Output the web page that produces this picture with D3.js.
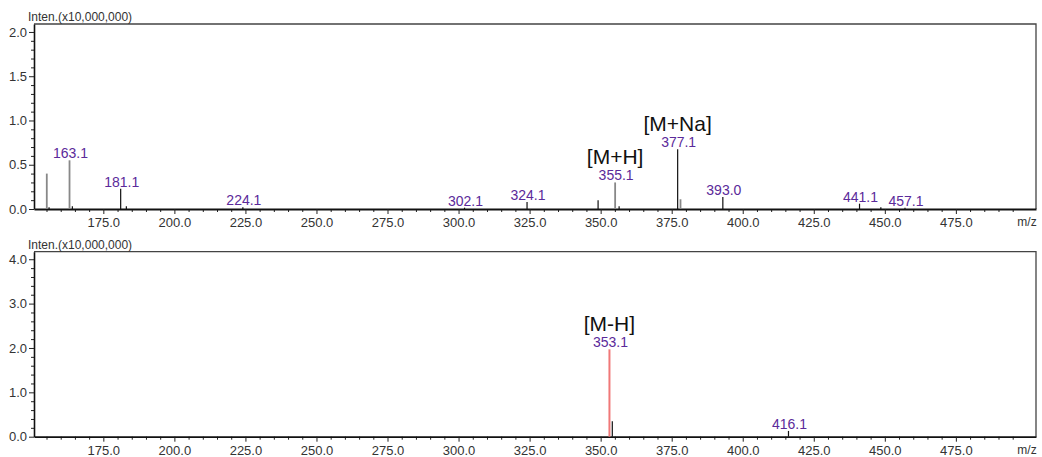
<!DOCTYPE html>
<html>
<head>
<meta charset="utf-8">
<script src="https://cdn.jsdelivr.net/npm/d3@7"></script>
<style>
  html, body { margin: 0; padding: 0; background: #fff; }
  svg { display: block; font-family: "Liberation Sans", Arial, sans-serif; }
</style>
</head>
<body>
<svg id="chart" width="1042" height="457"></svg>
<script>
// Positive-mode spectrum (intensity x10,000,000)
const posMz     = [155.1, 155.9, 163.1, 164.1, 181.1, 183.1, 224.1, 302.1, 324.1, 349.1, 355.1, 356.5, 377.1, 378.1, 393.0, 441.1, 448.6, 457.1];
const posInt    = [0.40,  0.02,  0.55,  0.03,  0.23,  0.03,  0.02,  0.015, 0.08,  0.10,  0.30,  0.03,  0.675, 0.11,  0.135, 0.06,  0.02,  0.015];
const posLabels = [163.1, 181.1, 224.1, 302.1, 324.1, 355.1, 377.1, 393.0, 441.1, 457.1];
const posIons   = [{ mz: 355.1, text: "[M+H]" }, { mz: 377.1, text: "[M+Na]" }];

// Negative-mode spectrum
const negMz     = [353.1, 354.1, 416.1];
const negInt    = [1.97,  0.35,  0.13];
const negLabels = [353.1, 416.1];
const negIons   = [{ mz: 353.1, text: "[M-H]" }];

const xTicks = [175, 200, 225, 250, 275, 300, 325, 350, 375, 400, 425, 450, 475];

// peak colouring
const greyPeaks = new Set([155.1, 163.1, 355.1, 378.1]);
const redPeaks  = new Set([353.1]);

const svg = d3.select("#chart");
const x = d3.scaleLinear().domain([150.6, 503.2]).range([34, 1036]);
const minorX = d3.range(155, 503, 5);

function panel(opts) {
  const { top, bottom, yMax, yMajor, yMinorStep, mz, inten, labels, ions } = opts;
  const y = d3.scaleLinear().domain([0, yMax]).range([bottom, top]);
  const g = svg.append("g");

  // frame: top and right edges
  g.append("path")
    .attr("d", `M${x.range()[0]},${top}H${x.range()[1]}V${bottom}`)
    .attr("fill", "none").attr("stroke", "#444").attr("stroke-width", 1.3);

  // y axis
  const yMinor = d3.range(0, yMax, yMinorStep).filter(v => !yMajor.some(m => Math.abs(m - v) < 1e-6));
  g.append("g").attr("transform", `translate(${x.range()[0]},0)`)
    .call(d3.axisLeft(y).tickValues(yMinor).tickSize(3).tickFormat(""))
    .call(a => a.select(".domain").remove())
    .selectAll("line").attr("stroke", "#222");
  const ya = g.append("g").attr("transform", `translate(${x.range()[0]},0)`)
    .call(d3.axisLeft(y).tickValues(yMajor).tickSize(5).tickSizeOuter(0).tickPadding(2).tickFormat(d3.format(".1f")));
  ya.select(".domain").attr("stroke", "#111").attr("stroke-width", 1.6);
  ya.selectAll("line").attr("stroke", "#222");
  ya.selectAll("text").attr("font-size", 13).attr("fill", "#333")
    .attr("font-family", "Liberation Sans, Arial, sans-serif");

  // x axis
  g.append("g").attr("transform", `translate(0,${bottom})`)
    .call(d3.axisBottom(x).tickValues(minorX.filter(v => v % 25 !== 0)).tickSize(3).tickFormat(""))
    .call(a => a.select(".domain").remove())
    .selectAll("line").attr("stroke", "#222");
  const xa = g.append("g").attr("transform", `translate(0,${bottom})`)
    .call(d3.axisBottom(x).tickValues(xTicks).tickSize(5).tickSizeOuter(0).tickPadding(4).tickFormat(d3.format(".1f")));
  xa.select(".domain").attr("stroke", "#111").attr("stroke-width", 1.8);
  xa.selectAll("line").attr("stroke", "#222");
  xa.selectAll("text").attr("font-size", 13).attr("fill", "#333")
    .attr("font-family", "Liberation Sans, Arial, sans-serif");

  g.append("text").attr("x", 1027).attr("y", bottom + 17).attr("text-anchor", "middle")
    .attr("font-size", 12).attr("fill", "#333").text("m/z");

  g.append("text").attr("x", 28).attr("y", top - 3)
    .attr("font-size", 12).attr("fill", "#333").text("Inten.(x10,000,000)");

  // peaks
  g.selectAll("line.peak").data(mz.map((m, i) => ({ m, v: inten[i] })))
    .join("line").attr("class", "peak")
    .attr("x1", d => x(d.m)).attr("x2", d => x(d.m))
    .attr("y1", bottom).attr("y2", d => y(d.v))
    .attr("stroke", d => redPeaks.has(d.m) ? "#f07878" : greyPeaks.has(d.m) ? "#888" : "#111")
    .attr("stroke-width", d => redPeaks.has(d.m) ? 2 : greyPeaks.has(d.m) ? 1.8 : 1.2);

  // peak value labels
  const peakTop = m => y(inten[mz.indexOf(m)]);
  g.selectAll("text.lab").data(labels).join("text").attr("class", "lab")
    .attr("x", m => x(m) + 1).attr("y", m => Math.min(peakTop(m) - 2, bottom - 3))
    .attr("text-anchor", "middle").attr("font-size", 14).attr("fill", "#5b2a9a")
    .text(m => m.toFixed(1));

  // ion annotations
  g.selectAll("text.ion").data(ions).join("text").attr("class", "ion")
    .attr("x", d => x(d.mz)).attr("y", d => peakTop(d.mz) - 18)
    .attr("text-anchor", "middle").attr("font-size", 21).attr("fill", "#111")
    .text(d => d.text);
}

panel({ top: 24, bottom: 209, yMax: 2.09, yMajor: [0, 0.5, 1.0, 1.5, 2.0], yMinorStep: 0.1,
        mz: posMz, inten: posInt, labels: posLabels, ions: posIons });
panel({ top: 251.7, bottom: 436.7, yMax: 4.17, yMajor: [0, 1, 2, 3, 4], yMinorStep: 0.2,
        mz: negMz, inten: negInt, labels: negLabels, ions: negIons });
</script>
</body>
</html>
